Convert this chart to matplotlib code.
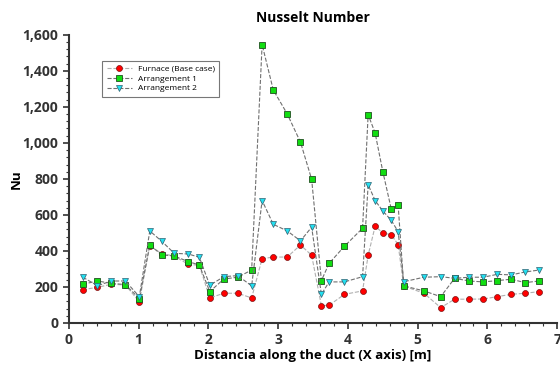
import numpy as np
import matplotlib
matplotlib.use("Agg")
import matplotlib.pyplot as plt
from matplotlib.ticker import MultipleLocator, FuncFormatter

plt.rcParams['font.family'] = ['Open Sans', 'DejaVu Sans']

x = [0.2, 0.41, 0.61, 0.81, 1.01, 1.16, 1.33, 1.51, 1.71, 1.87,
     2.02, 2.22, 2.42, 2.62, 2.77, 2.93, 3.13, 3.32, 3.48, 3.62,
     3.73, 3.95, 4.21, 4.29, 4.39, 4.5, 4.62, 4.72, 4.8, 5.09,
     5.33, 5.53, 5.74, 5.94, 6.14, 6.34, 6.54, 6.74]

furnace = [185, 198, 215, 211, 118, 430, 385, 372, 326, 320,
           139, 165, 165, 139, 357, 366, 366, 433, 376, 96,
           98, 159, 178, 376, 537, 500, 491, 435, 205, 165,
           85, 132, 132, 133, 146, 159, 165, 174]

arr1 = [215, 233, 220, 213, 135, 433, 378, 372, 341, 322,
        174, 244, 254, 294, 1546, 1294, 1161, 1004, 798, 235,
        331, 426, 526, 1157, 1055, 841, 635, 654, 206, 178,
        146, 248, 233, 228, 235, 243, 224, 233]

arr2 = [254, 207, 233, 233, 146, 511, 454, 387, 383, 365,
        209, 257, 263, 206, 680, 548, 511, 456, 532, 159,
        228, 228, 257, 768, 680, 622, 571, 507, 229, 254,
        257, 248, 254, 254, 270, 267, 283, 294]

fig = plt.figure(figsize=(5.6, 3.67), dpi=100)
ax = fig.add_axes([0.123, 0.12, 0.872, 0.785])

ax.plot(x, furnace, ls='--', lw=0.8, color='#b0b0b0', marker='o', ms=4.3,
        mfc='#ff0000', mec='#7a1010', mew=0.5, label='Furnace (Base case)')
ax.plot(x, arr1, ls='--', lw=0.8, color='#707070', marker='s', ms=4.3,
        mfc='#11dd11', mec='#1f4f1f', mew=0.6, label='Arrangement 1')
ax.plot(x, arr2, ls='--', lw=0.8, color='#707070', marker='v', ms=4.8,
        mfc='#22e0f0', mec='#306070', mew=0.5, label='Arrangement 2')

ax.set_xlim(0, 7)
ax.set_ylim(0, 1600)
ax.xaxis.set_major_locator(MultipleLocator(1))
ax.xaxis.set_minor_locator(MultipleLocator(0.2))
ax.yaxis.set_major_locator(MultipleLocator(200))
ax.yaxis.set_minor_locator(MultipleLocator(40))
ax.yaxis.set_major_formatter(FuncFormatter(lambda v, p: f"{int(v):,}"))

for s in ['top', 'right']:
    ax.spines[s].set_visible(False)
for s in ['left', 'bottom']:
    ax.spines[s].set_linewidth(1.5)
    ax.spines[s].set_color('#333333')

ax.tick_params(which='major', direction='out', length=4, width=1.2,
               color='#333333', labelsize=10, labelcolor='#333333')
ax.tick_params(which='minor', direction='out', length=2, width=0.8, color='#333333')
for lab in ax.get_xticklabels() + ax.get_yticklabels():
    lab.set_fontweight('bold')

ax.set_title('Nusselt Number', fontsize=10, fontweight='bold', pad=9)
ax.set_xlabel('Distancia along the duct (X axis) [m]', fontsize=9.5,
              fontweight='bold', labelpad=1)
ax.set_ylabel('Nu', fontsize=9.5, fontweight='bold')
ax.yaxis.set_label_coords(-0.095, 0.5)

leg = ax.legend(loc='upper left', bbox_to_anchor=(0.06, 0.925), fontsize=6,
                frameon=True, fancybox=False, edgecolor='#555555',
                borderpad=0.5, labelspacing=0.25, handlelength=3.0,
                handletextpad=0.8)
leg.get_frame().set_linewidth(0.8)

fig.savefig('out.png', dpi=100)
